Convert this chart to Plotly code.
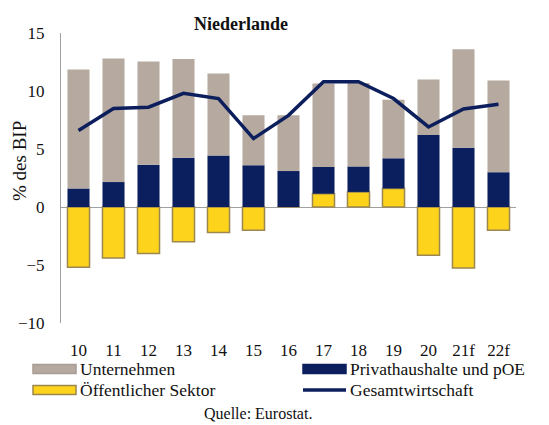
import plotly.graph_objects as go

# Finanzierungssalden nach Sektoren, Niederlande (% des BIP)
years = ["10", "11", "12", "13", "14", "15", "16", "17", "18", "19", "20", "21f", "22f"]
oeffentlich = [-5.2, -4.4, -4.0, -3.0, -2.2, -2.0, 0.0, 1.15, 1.3, 1.6, -4.15, -5.25, -2.0]
haushalte = [1.6, 2.15, 3.65, 4.25, 4.45, 3.6, 3.1, 2.3, 2.2, 2.6, 6.2, 5.1, 3.0]
unternehmen = [10.25, 10.65, 8.9, 8.5, 7.05, 4.3, 4.8, 7.2, 7.2, 5.05, 4.8, 8.5, 7.9]
gesamt = [6.6, 8.5, 8.6, 9.8, 9.35, 5.9, 7.9, 10.8, 10.8, 9.35, 6.9, 8.45, 8.85]

C_UNT = "#B5A9A0"
C_HH = "#0B1F5F"
C_OEF = "#FDD31B"
C_OEF_EDGE = "#9C8750"
C_LINE = "#0C1F5C"
FONT = "Liberation Serif"
TXT = "#111111"

W, H = 549, 425
ML, MR, MT, MB = 61, 33, 33, 102


def px(x):
    return (x - ML) / (W - ML - MR)


def py(y):
    return (H - MB - y) / (H - MT - MB)


fig = go.Figure()
fig.add_bar(x=years, y=oeffentlich, name="Öffentlicher Sektor", marker=dict(color=C_OEF, line=dict(color=C_OEF_EDGE, width=1.5)))
fig.add_bar(x=years, y=haushalte, name="Privathaushalte und pOE", marker=dict(color=C_HH, line=dict(width=0)))
fig.add_bar(x=years, y=unternehmen, name="Unternehmen", marker=dict(color=C_UNT, line=dict(width=0)))
fig.add_scatter(x=years, y=gesamt, mode="lines", name="Gesamtwirtschaft", line=dict(color=C_LINE, width=3.5))

fig.update_layout(
    width=W, height=H,
    margin=dict(l=ML, r=MR, t=MT, b=MB),
    barmode="relative", bargap=0.37,
    showlegend=False,
    plot_bgcolor="white", paper_bgcolor="white",
    font=dict(family=FONT, size=17, color=TXT),
)
fig.update_xaxes(showgrid=False, showline=False, ticks="", ticklabelstandoff=15,
                 tickfont=dict(family=FONT, size=17, color=TXT))
fig.update_yaxes(range=[-10, 15], tickvals=[-10, -5, 0, 5, 10, 15], showgrid=False,
                 showline=True, linecolor="#A0A0A0", linewidth=1, ticks="",
                 zeroline=True, zerolinecolor="#A0A0A0", zerolinewidth=1,
                 ticklabelstandoff=12, tickfont=dict(family=FONT, size=17, color=TXT))

ann = [
    dict(text="<b>Niederlande</b>", x=px(241), y=py(24), font=dict(size=18)),
    dict(text="% des BIP", x=px(19), y=py(161), textangle=-90, font=dict(size=19)),
    dict(text="Quelle: Eurostat.", x=px(258), y=py(413), font=dict(size=16)),
]
for a in ann:
    fig.add_annotation(xref="paper", yref="paper", showarrow=False, xanchor="center", yanchor="middle", **a)

# Legende: zwei Spalten, breite Farbfelder
legend_items = [
    ("Unternehmen", "bar", C_UNT, "#A89C94", 33, 369),
    ("Öffentlicher Sektor", "bar", C_OEF, C_OEF_EDGE, 33, 390),
    ("Privathaushalte und pOE", "bar", C_HH, C_HH, 303, 369),
    ("Gesamtwirtschaft", "line", C_LINE, C_LINE, 303, 390),
]
for label, kind, col, edge, x0, yc in legend_items:
    if kind == "bar":
        fig.add_shape(type="rect", xref="paper", yref="paper", x0=px(x0), x1=px(x0 + 43),
                      y0=py(yc - 4.5), y1=py(yc + 4.5), fillcolor=col, line=dict(color=edge, width=1.5))
    else:
        fig.add_shape(type="line", xref="paper", yref="paper", x0=px(x0), x1=px(x0 + 43),
                      y0=py(yc), y1=py(yc), line=dict(color=col, width=3.5))
    fig.add_annotation(xref="paper", yref="paper", showarrow=False, text=label,
                       x=px(x0 + 45), y=py(yc), xanchor="left", yanchor="middle",
                       font=dict(size=17.5))

fig.write_html("out.html")
